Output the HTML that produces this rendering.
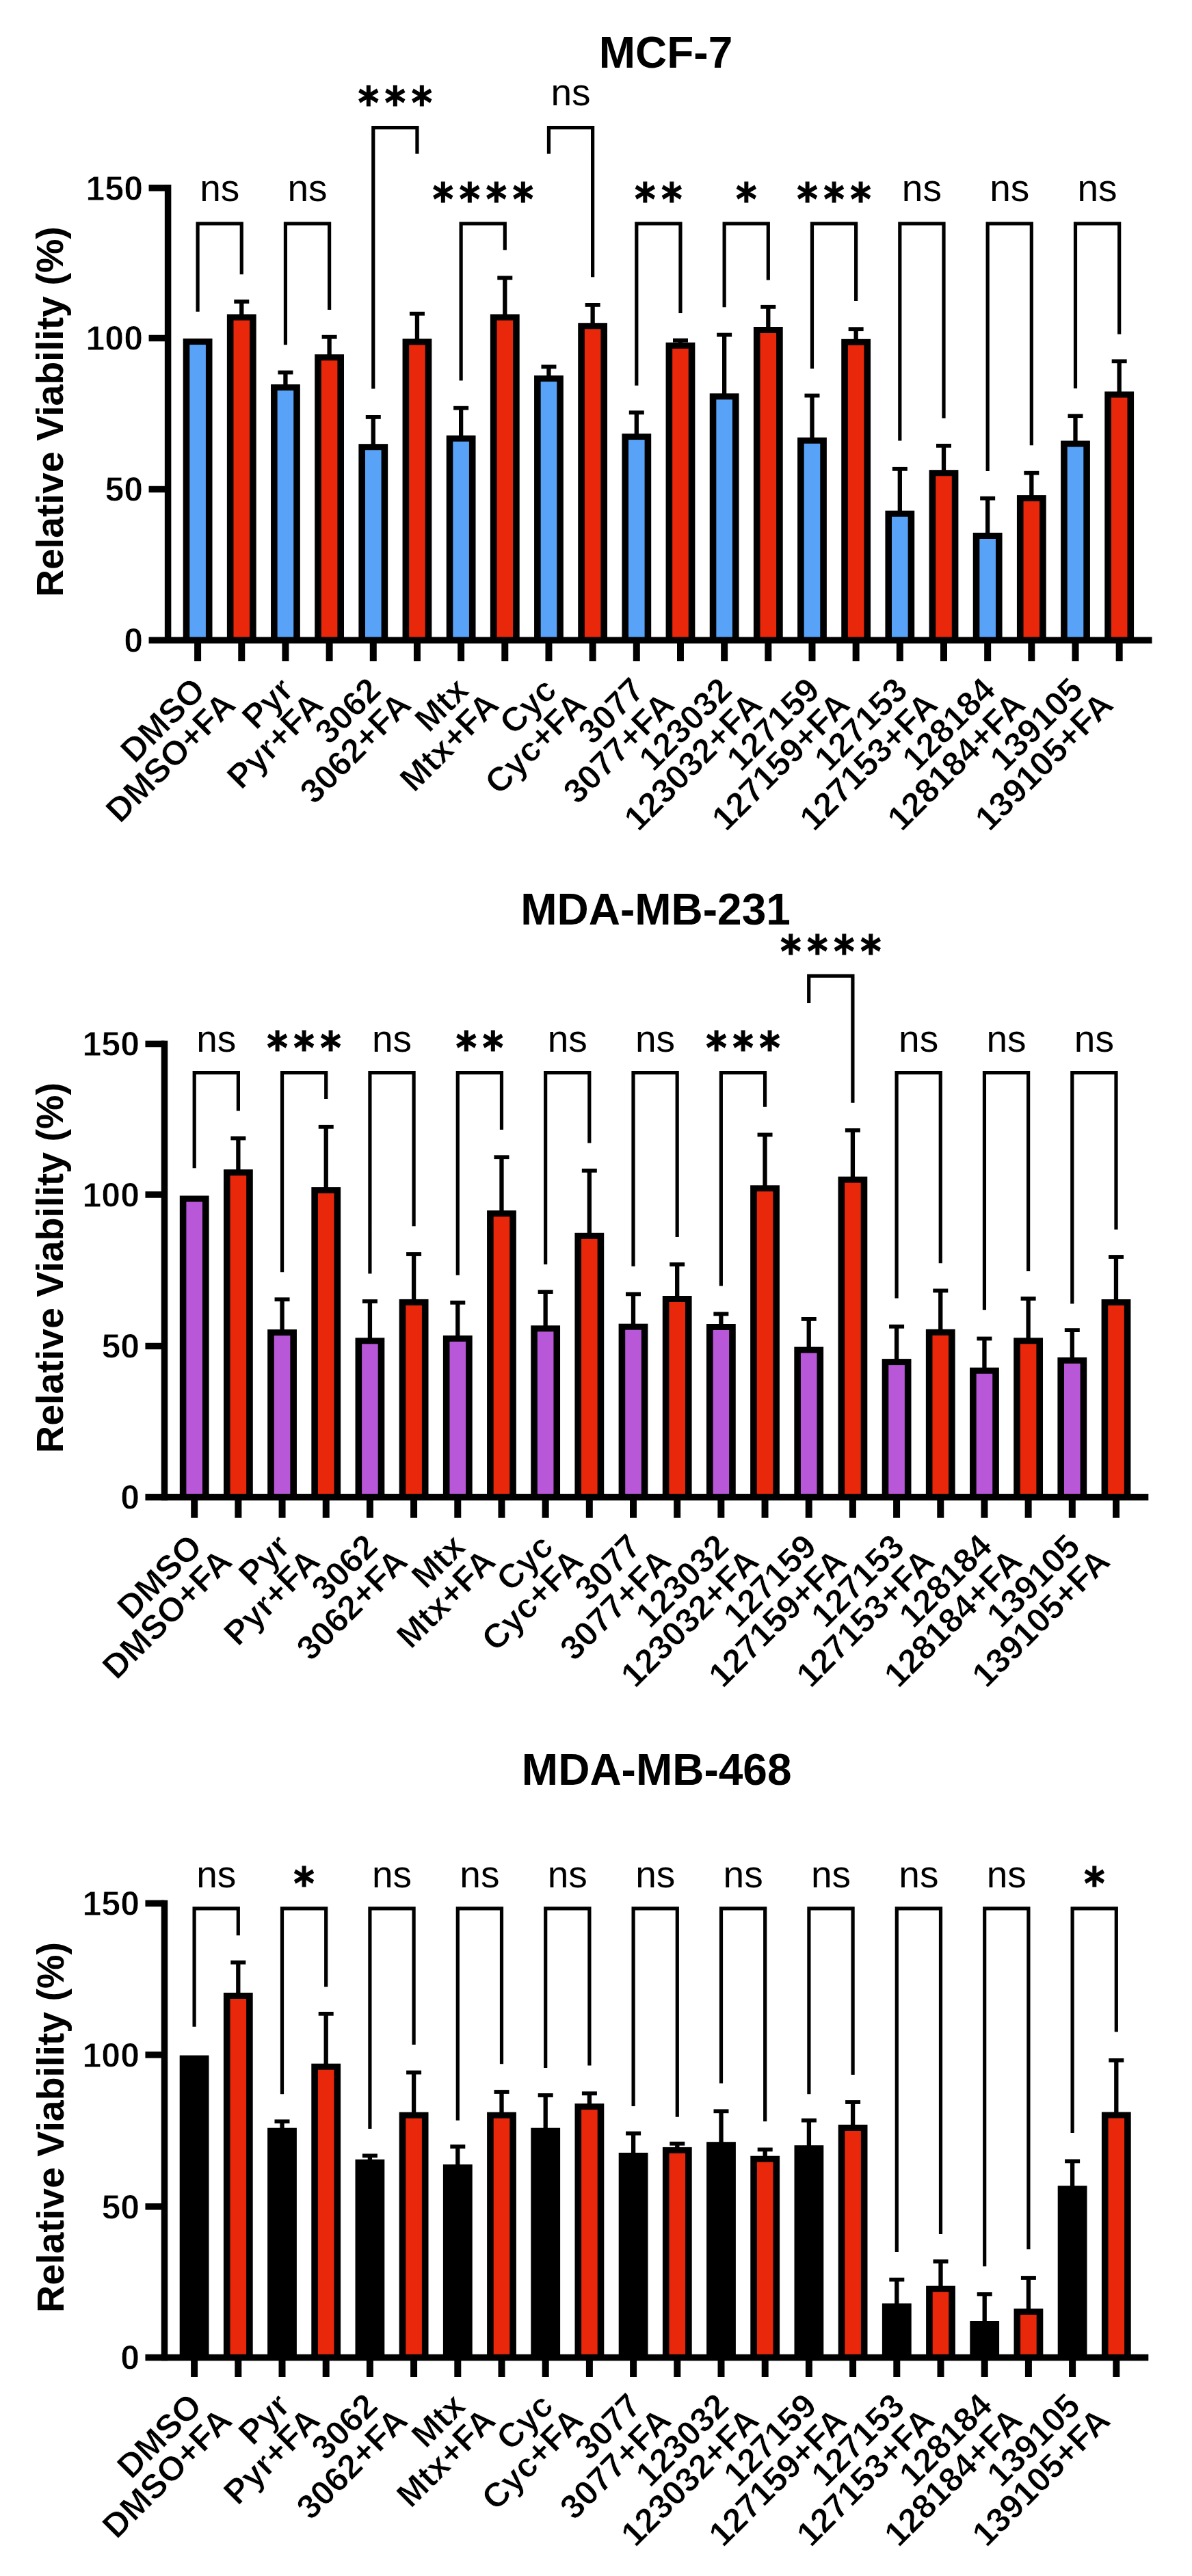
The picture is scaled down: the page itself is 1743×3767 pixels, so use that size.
<!DOCTYPE html>
<html><head><meta charset="utf-8"><title>Relative Viability</title><style>
html,body{margin:0;padding:0;background:#fff;}
svg{display:block;}
text{fill:#000;}
.ti{font-family:"Liberation Sans",Arial,sans-serif;font-weight:bold;font-size:64px;}
.yl{font-family:"Liberation Sans",Arial,sans-serif;font-weight:bold;font-size:55.5px;stroke:#fff;stroke-width:0.0px;}
.num{font-family:"Liberation Sans",Arial,sans-serif;font-weight:bold;font-size:50px;stroke:#fff;stroke-width:0.8px;}
.xl{font-family:"Liberation Sans",Arial,sans-serif;font-weight:bold;font-size:50px;stroke:#fff;stroke-width:0.8px;}
.ns{font-family:"Liberation Sans",Arial,sans-serif;font-size:55px;}
.as{font-family:"DejaVu Sans Condensed","DejaVu Sans",sans-serif;font-weight:bold;font-stretch:condensed;font-size:64px;letter-spacing:8.9px;stroke:#000;stroke-width:1.2px;}
</style></head>
<body><svg width="1743" height="3767" viewBox="0 0 1743 3767">
<rect width="1743" height="3767" fill="#fff"/>
<text class="ti" x="973.5" y="99.2" text-anchor="middle">MCF-7</text>
<text class="yl" transform="translate(92.4,602.2) rotate(-90)" text-anchor="middle">Relative Viability (%)</text>
<rect x="267.7" y="495.1" width="42.8" height="441.1" fill="#000"/>
<rect x="277.3" y="504.1" width="23.6" height="432.1" fill="#58A3F8"/>
<line x1="353.27" y1="441" x2="353.27" y2="461.5" stroke="#000" stroke-width="6.3"/>
<line x1="342.27" y1="441" x2="364.27" y2="441" stroke="#000" stroke-width="5.8"/>
<rect x="331.87" y="459.5" width="42.8" height="476.7" fill="#000"/>
<rect x="341.47" y="468.5" width="23.6" height="467.7" fill="#E8270B"/>
<line x1="417.44" y1="544.6" x2="417.44" y2="564.1" stroke="#000" stroke-width="6.3"/>
<line x1="406.44" y1="544.6" x2="428.44" y2="544.6" stroke="#000" stroke-width="5.8"/>
<rect x="396.04" y="562.1" width="42.8" height="374.1" fill="#000"/>
<rect x="405.64" y="571.1" width="23.6" height="365.1" fill="#58A3F8"/>
<line x1="481.61" y1="492.7" x2="481.61" y2="520.2" stroke="#000" stroke-width="6.3"/>
<line x1="470.61" y1="492.7" x2="492.61" y2="492.7" stroke="#000" stroke-width="5.8"/>
<rect x="460.21" y="518.2" width="42.8" height="418" fill="#000"/>
<rect x="469.81" y="527.2" width="23.6" height="409" fill="#E8270B"/>
<line x1="545.78" y1="609.9" x2="545.78" y2="651.2" stroke="#000" stroke-width="6.3"/>
<line x1="534.78" y1="609.9" x2="556.78" y2="609.9" stroke="#000" stroke-width="5.8"/>
<rect x="524.38" y="649.2" width="42.8" height="287" fill="#000"/>
<rect x="533.98" y="658.2" width="23.6" height="278" fill="#58A3F8"/>
<line x1="609.95" y1="458.7" x2="609.95" y2="497.4" stroke="#000" stroke-width="6.3"/>
<line x1="598.95" y1="458.7" x2="620.95" y2="458.7" stroke="#000" stroke-width="5.8"/>
<rect x="588.55" y="495.4" width="42.8" height="440.8" fill="#000"/>
<rect x="598.15" y="504.4" width="23.6" height="431.8" fill="#E8270B"/>
<line x1="674.12" y1="596.7" x2="674.12" y2="638.7" stroke="#000" stroke-width="6.3"/>
<line x1="663.12" y1="596.7" x2="685.12" y2="596.7" stroke="#000" stroke-width="5.8"/>
<rect x="652.72" y="636.7" width="42.8" height="299.5" fill="#000"/>
<rect x="662.32" y="645.7" width="23.6" height="290.5" fill="#58A3F8"/>
<line x1="738.29" y1="406.3" x2="738.29" y2="461.5" stroke="#000" stroke-width="6.3"/>
<line x1="727.29" y1="406.3" x2="749.29" y2="406.3" stroke="#000" stroke-width="5.8"/>
<rect x="716.89" y="459.5" width="42.8" height="476.7" fill="#000"/>
<rect x="726.49" y="468.5" width="23.6" height="467.7" fill="#E8270B"/>
<line x1="802.46" y1="536.3" x2="802.46" y2="551.1" stroke="#000" stroke-width="6.3"/>
<line x1="791.46" y1="536.3" x2="813.46" y2="536.3" stroke="#000" stroke-width="5.8"/>
<rect x="781.06" y="549.1" width="42.8" height="387.1" fill="#000"/>
<rect x="790.66" y="558.1" width="23.6" height="378.1" fill="#58A3F8"/>
<line x1="866.63" y1="445.9" x2="866.63" y2="474.2" stroke="#000" stroke-width="6.3"/>
<line x1="855.63" y1="445.9" x2="877.63" y2="445.9" stroke="#000" stroke-width="5.8"/>
<rect x="845.23" y="472.2" width="42.8" height="464" fill="#000"/>
<rect x="854.83" y="481.2" width="23.6" height="455" fill="#E8270B"/>
<line x1="930.8" y1="603.3" x2="930.8" y2="636.1" stroke="#000" stroke-width="6.3"/>
<line x1="919.8" y1="603.3" x2="941.8" y2="603.3" stroke="#000" stroke-width="5.8"/>
<rect x="909.4" y="634.1" width="42.8" height="302.1" fill="#000"/>
<rect x="919" y="643.1" width="23.6" height="293.1" fill="#58A3F8"/>
<line x1="994.97" y1="497.7" x2="994.97" y2="502.8" stroke="#000" stroke-width="6.3"/>
<line x1="983.97" y1="497.7" x2="1005.97" y2="497.7" stroke="#000" stroke-width="5.8"/>
<rect x="973.57" y="500.8" width="42.8" height="435.4" fill="#000"/>
<rect x="983.17" y="509.8" width="23.6" height="426.4" fill="#E8270B"/>
<line x1="1059.14" y1="489.6" x2="1059.14" y2="577.3" stroke="#000" stroke-width="6.3"/>
<line x1="1048.14" y1="489.6" x2="1070.14" y2="489.6" stroke="#000" stroke-width="5.8"/>
<rect x="1037.74" y="575.3" width="42.8" height="360.9" fill="#000"/>
<rect x="1047.34" y="584.3" width="23.6" height="351.9" fill="#58A3F8"/>
<line x1="1123.31" y1="448.8" x2="1123.31" y2="480" stroke="#000" stroke-width="6.3"/>
<line x1="1112.31" y1="448.8" x2="1134.31" y2="448.8" stroke="#000" stroke-width="5.8"/>
<rect x="1101.91" y="478" width="42.8" height="458.2" fill="#000"/>
<rect x="1111.51" y="487" width="23.6" height="449.2" fill="#E8270B"/>
<line x1="1187.48" y1="578.5" x2="1187.48" y2="641.7" stroke="#000" stroke-width="6.3"/>
<line x1="1176.48" y1="578.5" x2="1198.48" y2="578.5" stroke="#000" stroke-width="5.8"/>
<rect x="1166.08" y="639.7" width="42.8" height="296.5" fill="#000"/>
<rect x="1175.68" y="648.7" width="23.6" height="287.5" fill="#58A3F8"/>
<line x1="1251.65" y1="481.2" x2="1251.65" y2="497.8" stroke="#000" stroke-width="6.3"/>
<line x1="1240.65" y1="481.2" x2="1262.65" y2="481.2" stroke="#000" stroke-width="5.8"/>
<rect x="1230.25" y="495.8" width="42.8" height="440.4" fill="#000"/>
<rect x="1239.85" y="504.8" width="23.6" height="431.4" fill="#E8270B"/>
<line x1="1315.82" y1="685.8" x2="1315.82" y2="748.7" stroke="#000" stroke-width="6.3"/>
<line x1="1304.82" y1="685.8" x2="1326.82" y2="685.8" stroke="#000" stroke-width="5.8"/>
<rect x="1294.42" y="746.7" width="42.8" height="189.5" fill="#000"/>
<rect x="1304.02" y="755.7" width="23.6" height="180.5" fill="#58A3F8"/>
<line x1="1379.99" y1="651.8" x2="1379.99" y2="689.2" stroke="#000" stroke-width="6.3"/>
<line x1="1368.99" y1="651.8" x2="1390.99" y2="651.8" stroke="#000" stroke-width="5.8"/>
<rect x="1358.59" y="687.2" width="42.8" height="249" fill="#000"/>
<rect x="1368.19" y="696.2" width="23.6" height="240" fill="#E8270B"/>
<line x1="1444.16" y1="728.7" x2="1444.16" y2="781" stroke="#000" stroke-width="6.3"/>
<line x1="1433.16" y1="728.7" x2="1455.16" y2="728.7" stroke="#000" stroke-width="5.8"/>
<rect x="1422.76" y="779" width="42.8" height="157.2" fill="#000"/>
<rect x="1432.36" y="788" width="23.6" height="148.2" fill="#58A3F8"/>
<line x1="1508.33" y1="691.7" x2="1508.33" y2="726.1" stroke="#000" stroke-width="6.3"/>
<line x1="1497.33" y1="691.7" x2="1519.33" y2="691.7" stroke="#000" stroke-width="5.8"/>
<rect x="1486.93" y="724.1" width="42.8" height="212.1" fill="#000"/>
<rect x="1496.53" y="733.1" width="23.6" height="203.1" fill="#E8270B"/>
<line x1="1572.5" y1="608.2" x2="1572.5" y2="646.5" stroke="#000" stroke-width="6.3"/>
<line x1="1561.5" y1="608.2" x2="1583.5" y2="608.2" stroke="#000" stroke-width="5.8"/>
<rect x="1551.1" y="644.5" width="42.8" height="291.7" fill="#000"/>
<rect x="1560.7" y="653.5" width="23.6" height="282.7" fill="#58A3F8"/>
<line x1="1636.67" y1="528.3" x2="1636.67" y2="574.5" stroke="#000" stroke-width="6.3"/>
<line x1="1625.67" y1="528.3" x2="1647.67" y2="528.3" stroke="#000" stroke-width="5.8"/>
<rect x="1615.27" y="572.5" width="42.8" height="363.7" fill="#000"/>
<rect x="1624.87" y="581.5" width="23.6" height="354.7" fill="#E8270B"/>
<path d="M289.1 455.8V327H353.27V401.3" fill="none" stroke="#000" stroke-width="5.2" stroke-linejoin="miter" stroke-linecap="butt"/>
<text class="ns" x="321.19" y="294.4" text-anchor="middle">ns</text>
<path d="M417.44 504.3V327H481.61V453" fill="none" stroke="#000" stroke-width="5.2" stroke-linejoin="miter" stroke-linecap="butt"/>
<text class="ns" x="449.53" y="294.4" text-anchor="middle">ns</text>
<path d="M545.78 568.6V186.6H609.95V224.8" fill="none" stroke="#000" stroke-width="5.2" stroke-linejoin="miter" stroke-linecap="butt"/>
<text class="as" x="582.32" y="173.2" text-anchor="middle">***</text>
<path d="M674.12 556.4V327H738.29V365.7" fill="none" stroke="#000" stroke-width="5.2" stroke-linejoin="miter" stroke-linecap="butt"/>
<text class="as" x="710.65" y="313.6" text-anchor="middle">****</text>
<path d="M802.46 224.8V186.6H866.63V405.3" fill="none" stroke="#000" stroke-width="5.2" stroke-linejoin="miter" stroke-linecap="butt"/>
<text class="ns" x="834.55" y="154" text-anchor="middle">ns</text>
<path d="M930.8 563.7V327H994.97V458" fill="none" stroke="#000" stroke-width="5.2" stroke-linejoin="miter" stroke-linecap="butt"/>
<text class="as" x="967.34" y="313.6" text-anchor="middle">**</text>
<path d="M1059.14 449.2V327H1123.31V409.6" fill="none" stroke="#000" stroke-width="5.2" stroke-linejoin="miter" stroke-linecap="butt"/>
<text class="as" x="1095.67" y="313.6" text-anchor="middle">*</text>
<path d="M1187.48 538.9V327H1251.65V439.9" fill="none" stroke="#000" stroke-width="5.2" stroke-linejoin="miter" stroke-linecap="butt"/>
<text class="as" x="1224.02" y="313.6" text-anchor="middle">***</text>
<path d="M1315.82 644.6V327H1379.99V611.6" fill="none" stroke="#000" stroke-width="5.2" stroke-linejoin="miter" stroke-linecap="butt"/>
<text class="ns" x="1347.91" y="294.4" text-anchor="middle">ns</text>
<path d="M1444.16 689.1V327H1508.33V651.2" fill="none" stroke="#000" stroke-width="5.2" stroke-linejoin="miter" stroke-linecap="butt"/>
<text class="ns" x="1476.24" y="294.4" text-anchor="middle">ns</text>
<path d="M1572.5 568V327H1636.67V488.8" fill="none" stroke="#000" stroke-width="5.2" stroke-linejoin="miter" stroke-linecap="butt"/>
<text class="ns" x="1604.59" y="294.4" text-anchor="middle">ns</text>
<line x1="245.6" y1="270.05" x2="245.6" y2="940.95" stroke="#000" stroke-width="9.5"/>
<line x1="217.55" y1="936.2" x2="1684.5" y2="936.2" stroke="#000" stroke-width="9.5"/>
<line x1="217.55" y1="274.8" x2="245.6" y2="274.8" stroke="#000" stroke-width="9.5"/>
<line x1="217.55" y1="494.5" x2="245.6" y2="494.5" stroke="#000" stroke-width="9.5"/>
<line x1="217.55" y1="715.5" x2="245.6" y2="715.5" stroke="#000" stroke-width="9.5"/>
<text class="num" x="209" y="292.7" text-anchor="end">150</text>
<text class="num" x="209" y="512.4" text-anchor="end">100</text>
<text class="num" x="209" y="733.4" text-anchor="end">50</text>
<text class="num" x="209" y="954.1" text-anchor="end">0</text>
<line x1="289.1" y1="936.2" x2="289.1" y2="967" stroke="#000" stroke-width="10"/>
<text class="xl" transform="translate(303.1,1012) rotate(-45)" text-anchor="end">DMSO</text>
<line x1="353.27" y1="936.2" x2="353.27" y2="967" stroke="#000" stroke-width="10"/>
<text class="xl" transform="translate(347.27,1033.5) rotate(-45)" text-anchor="end">DMSO+FA</text>
<line x1="417.44" y1="936.2" x2="417.44" y2="967" stroke="#000" stroke-width="10"/>
<text class="xl" transform="translate(431.44,1012) rotate(-45)" text-anchor="end">Pyr</text>
<line x1="481.61" y1="936.2" x2="481.61" y2="967" stroke="#000" stroke-width="10"/>
<text class="xl" transform="translate(475.61,1033.5) rotate(-45)" text-anchor="end">Pyr+FA</text>
<line x1="545.78" y1="936.2" x2="545.78" y2="967" stroke="#000" stroke-width="10"/>
<text class="xl" transform="translate(559.78,1012) rotate(-45)" text-anchor="end">3062</text>
<line x1="609.95" y1="936.2" x2="609.95" y2="967" stroke="#000" stroke-width="10"/>
<text class="xl" transform="translate(603.95,1033.5) rotate(-45)" text-anchor="end">3062+FA</text>
<line x1="674.12" y1="936.2" x2="674.12" y2="967" stroke="#000" stroke-width="10"/>
<text class="xl" transform="translate(688.12,1012) rotate(-45)" text-anchor="end">Mtx</text>
<line x1="738.29" y1="936.2" x2="738.29" y2="967" stroke="#000" stroke-width="10"/>
<text class="xl" transform="translate(732.29,1033.5) rotate(-45)" text-anchor="end">Mtx+FA</text>
<line x1="802.46" y1="936.2" x2="802.46" y2="967" stroke="#000" stroke-width="10"/>
<text class="xl" transform="translate(816.46,1012) rotate(-45)" text-anchor="end">Cyc</text>
<line x1="866.63" y1="936.2" x2="866.63" y2="967" stroke="#000" stroke-width="10"/>
<text class="xl" transform="translate(860.63,1033.5) rotate(-45)" text-anchor="end">Cyc+FA</text>
<line x1="930.8" y1="936.2" x2="930.8" y2="967" stroke="#000" stroke-width="10"/>
<text class="xl" transform="translate(944.8,1012) rotate(-45)" text-anchor="end">3077</text>
<line x1="994.97" y1="936.2" x2="994.97" y2="967" stroke="#000" stroke-width="10"/>
<text class="xl" transform="translate(988.97,1033.5) rotate(-45)" text-anchor="end">3077+FA</text>
<line x1="1059.14" y1="936.2" x2="1059.14" y2="967" stroke="#000" stroke-width="10"/>
<text class="xl" transform="translate(1073.14,1012) rotate(-45)" text-anchor="end">123032</text>
<line x1="1123.31" y1="936.2" x2="1123.31" y2="967" stroke="#000" stroke-width="10"/>
<text class="xl" transform="translate(1117.31,1033.5) rotate(-45)" text-anchor="end">123032+FA</text>
<line x1="1187.48" y1="936.2" x2="1187.48" y2="967" stroke="#000" stroke-width="10"/>
<text class="xl" transform="translate(1201.48,1012) rotate(-45)" text-anchor="end">127159</text>
<line x1="1251.65" y1="936.2" x2="1251.65" y2="967" stroke="#000" stroke-width="10"/>
<text class="xl" transform="translate(1245.65,1033.5) rotate(-45)" text-anchor="end">127159+FA</text>
<line x1="1315.82" y1="936.2" x2="1315.82" y2="967" stroke="#000" stroke-width="10"/>
<text class="xl" transform="translate(1329.82,1012) rotate(-45)" text-anchor="end">127153</text>
<line x1="1379.99" y1="936.2" x2="1379.99" y2="967" stroke="#000" stroke-width="10"/>
<text class="xl" transform="translate(1373.99,1033.5) rotate(-45)" text-anchor="end">127153+FA</text>
<line x1="1444.16" y1="936.2" x2="1444.16" y2="967" stroke="#000" stroke-width="10"/>
<text class="xl" transform="translate(1458.16,1012) rotate(-45)" text-anchor="end">128184</text>
<line x1="1508.33" y1="936.2" x2="1508.33" y2="967" stroke="#000" stroke-width="10"/>
<text class="xl" transform="translate(1502.33,1033.5) rotate(-45)" text-anchor="end">128184+FA</text>
<line x1="1572.5" y1="936.2" x2="1572.5" y2="967" stroke="#000" stroke-width="10"/>
<text class="xl" transform="translate(1586.5,1012) rotate(-45)" text-anchor="end">139105</text>
<line x1="1636.67" y1="936.2" x2="1636.67" y2="967" stroke="#000" stroke-width="10"/>
<text class="xl" transform="translate(1630.67,1033.5) rotate(-45)" text-anchor="end">139105+FA</text>
<text class="ti" x="958.5" y="1352" text-anchor="middle">MDA-MB-231</text>
<text class="yl" transform="translate(92.4,1854) rotate(-90)" text-anchor="middle">Relative Viability (%)</text>
<rect x="262.8" y="1748.5" width="42.8" height="441" fill="#000"/>
<rect x="272.4" y="1757.5" width="23.6" height="432" fill="#B857D8"/>
<line x1="348.38" y1="1664.5" x2="348.38" y2="1712.1" stroke="#000" stroke-width="6.3"/>
<line x1="337.38" y1="1664.5" x2="359.38" y2="1664.5" stroke="#000" stroke-width="5.8"/>
<rect x="326.98" y="1710.1" width="42.8" height="479.4" fill="#000"/>
<rect x="336.58" y="1719.1" width="23.6" height="470.4" fill="#E8270B"/>
<line x1="412.56" y1="1900.2" x2="412.56" y2="1946.1" stroke="#000" stroke-width="6.3"/>
<line x1="401.56" y1="1900.2" x2="423.56" y2="1900.2" stroke="#000" stroke-width="5.8"/>
<rect x="391.16" y="1944.1" width="42.8" height="245.4" fill="#000"/>
<rect x="400.76" y="1953.1" width="23.6" height="236.4" fill="#B857D8"/>
<line x1="476.74" y1="1647.8" x2="476.74" y2="1738.1" stroke="#000" stroke-width="6.3"/>
<line x1="465.74" y1="1647.8" x2="487.74" y2="1647.8" stroke="#000" stroke-width="5.8"/>
<rect x="455.34" y="1736.1" width="42.8" height="453.4" fill="#000"/>
<rect x="464.94" y="1745.1" width="23.6" height="444.4" fill="#E8270B"/>
<line x1="540.92" y1="1903" x2="540.92" y2="1958.3" stroke="#000" stroke-width="6.3"/>
<line x1="529.92" y1="1903" x2="551.92" y2="1903" stroke="#000" stroke-width="5.8"/>
<rect x="519.52" y="1956.3" width="42.8" height="233.2" fill="#000"/>
<rect x="529.12" y="1965.3" width="23.6" height="224.2" fill="#B857D8"/>
<line x1="605.1" y1="1834" x2="605.1" y2="1901.9" stroke="#000" stroke-width="6.3"/>
<line x1="594.1" y1="1834" x2="616.1" y2="1834" stroke="#000" stroke-width="5.8"/>
<rect x="583.7" y="1899.9" width="42.8" height="289.6" fill="#000"/>
<rect x="593.3" y="1908.9" width="23.6" height="280.6" fill="#E8270B"/>
<line x1="669.28" y1="1904.8" x2="669.28" y2="1954.9" stroke="#000" stroke-width="6.3"/>
<line x1="658.28" y1="1904.8" x2="680.28" y2="1904.8" stroke="#000" stroke-width="5.8"/>
<rect x="647.88" y="1952.9" width="42.8" height="236.6" fill="#000"/>
<rect x="657.48" y="1961.9" width="23.6" height="227.6" fill="#B857D8"/>
<line x1="733.46" y1="1692.2" x2="733.46" y2="1772.1" stroke="#000" stroke-width="6.3"/>
<line x1="722.46" y1="1692.2" x2="744.46" y2="1692.2" stroke="#000" stroke-width="5.8"/>
<rect x="712.06" y="1770.1" width="42.8" height="419.4" fill="#000"/>
<rect x="721.66" y="1779.1" width="23.6" height="410.4" fill="#E8270B"/>
<line x1="797.64" y1="1889.1" x2="797.64" y2="1940.3" stroke="#000" stroke-width="6.3"/>
<line x1="786.64" y1="1889.1" x2="808.64" y2="1889.1" stroke="#000" stroke-width="5.8"/>
<rect x="776.24" y="1938.3" width="42.8" height="251.2" fill="#000"/>
<rect x="785.84" y="1947.3" width="23.6" height="242.2" fill="#B857D8"/>
<line x1="861.82" y1="1711.8" x2="861.82" y2="1804.8" stroke="#000" stroke-width="6.3"/>
<line x1="850.82" y1="1711.8" x2="872.82" y2="1711.8" stroke="#000" stroke-width="5.8"/>
<rect x="840.42" y="1802.8" width="42.8" height="386.7" fill="#000"/>
<rect x="850.02" y="1811.8" width="23.6" height="377.7" fill="#E8270B"/>
<line x1="926" y1="1892.4" x2="926" y2="1937.7" stroke="#000" stroke-width="6.3"/>
<line x1="915" y1="1892.4" x2="937" y2="1892.4" stroke="#000" stroke-width="5.8"/>
<rect x="904.6" y="1935.7" width="42.8" height="253.8" fill="#000"/>
<rect x="914.2" y="1944.7" width="23.6" height="244.8" fill="#B857D8"/>
<line x1="990.18" y1="1849" x2="990.18" y2="1897" stroke="#000" stroke-width="6.3"/>
<line x1="979.18" y1="1849" x2="1001.18" y2="1849" stroke="#000" stroke-width="5.8"/>
<rect x="968.78" y="1895" width="42.8" height="294.5" fill="#000"/>
<rect x="978.38" y="1904" width="23.6" height="285.5" fill="#E8270B"/>
<line x1="1054.36" y1="1921.4" x2="1054.36" y2="1938" stroke="#000" stroke-width="6.3"/>
<line x1="1043.36" y1="1921.4" x2="1065.36" y2="1921.4" stroke="#000" stroke-width="5.8"/>
<rect x="1032.96" y="1936" width="42.8" height="253.5" fill="#000"/>
<rect x="1042.56" y="1945" width="23.6" height="244.5" fill="#B857D8"/>
<line x1="1118.54" y1="1659.4" x2="1118.54" y2="1735.3" stroke="#000" stroke-width="6.3"/>
<line x1="1107.54" y1="1659.4" x2="1129.54" y2="1659.4" stroke="#000" stroke-width="5.8"/>
<rect x="1097.14" y="1733.3" width="42.8" height="456.2" fill="#000"/>
<rect x="1106.74" y="1742.3" width="23.6" height="447.2" fill="#E8270B"/>
<line x1="1182.72" y1="1928.9" x2="1182.72" y2="1971.6" stroke="#000" stroke-width="6.3"/>
<line x1="1171.72" y1="1928.9" x2="1193.72" y2="1928.9" stroke="#000" stroke-width="5.8"/>
<rect x="1161.32" y="1969.6" width="42.8" height="219.9" fill="#000"/>
<rect x="1170.92" y="1978.6" width="23.6" height="210.9" fill="#B857D8"/>
<line x1="1246.9" y1="1652.9" x2="1246.9" y2="1722.6" stroke="#000" stroke-width="6.3"/>
<line x1="1235.9" y1="1652.9" x2="1257.9" y2="1652.9" stroke="#000" stroke-width="5.8"/>
<rect x="1225.5" y="1720.6" width="42.8" height="468.9" fill="#000"/>
<rect x="1235.1" y="1729.6" width="23.6" height="459.9" fill="#E8270B"/>
<line x1="1311.08" y1="1939.8" x2="1311.08" y2="1989.1" stroke="#000" stroke-width="6.3"/>
<line x1="1300.08" y1="1939.8" x2="1322.08" y2="1939.8" stroke="#000" stroke-width="5.8"/>
<rect x="1289.68" y="1987.1" width="42.8" height="202.4" fill="#000"/>
<rect x="1299.28" y="1996.1" width="23.6" height="193.4" fill="#B857D8"/>
<line x1="1375.26" y1="1887.4" x2="1375.26" y2="1945.8" stroke="#000" stroke-width="6.3"/>
<line x1="1364.26" y1="1887.4" x2="1386.26" y2="1887.4" stroke="#000" stroke-width="5.8"/>
<rect x="1353.86" y="1943.8" width="42.8" height="245.7" fill="#000"/>
<rect x="1363.46" y="1952.8" width="23.6" height="236.7" fill="#E8270B"/>
<line x1="1439.44" y1="1957.5" x2="1439.44" y2="2001.8" stroke="#000" stroke-width="6.3"/>
<line x1="1428.44" y1="1957.5" x2="1450.44" y2="1957.5" stroke="#000" stroke-width="5.8"/>
<rect x="1418.04" y="1999.8" width="42.8" height="189.7" fill="#000"/>
<rect x="1427.64" y="2008.8" width="23.6" height="180.7" fill="#B857D8"/>
<line x1="1503.62" y1="1899" x2="1503.62" y2="1958.3" stroke="#000" stroke-width="6.3"/>
<line x1="1492.62" y1="1899" x2="1514.62" y2="1899" stroke="#000" stroke-width="5.8"/>
<rect x="1482.22" y="1956.3" width="42.8" height="233.2" fill="#000"/>
<rect x="1491.82" y="1965.3" width="23.6" height="224.2" fill="#E8270B"/>
<line x1="1567.8" y1="1945.1" x2="1567.8" y2="1987" stroke="#000" stroke-width="6.3"/>
<line x1="1556.8" y1="1945.1" x2="1578.8" y2="1945.1" stroke="#000" stroke-width="5.8"/>
<rect x="1546.4" y="1985" width="42.8" height="204.5" fill="#000"/>
<rect x="1556" y="1994" width="23.6" height="195.5" fill="#B857D8"/>
<line x1="1631.98" y1="1838" x2="1631.98" y2="1902" stroke="#000" stroke-width="6.3"/>
<line x1="1620.98" y1="1838" x2="1642.98" y2="1838" stroke="#000" stroke-width="5.8"/>
<rect x="1610.58" y="1900" width="42.8" height="289.5" fill="#000"/>
<rect x="1620.18" y="1909" width="23.6" height="280.5" fill="#E8270B"/>
<path d="M284.2 1708.2V1568.6H348.38V1624.5" fill="none" stroke="#000" stroke-width="5.2" stroke-linejoin="miter" stroke-linecap="butt"/>
<text class="ns" x="316.29" y="1537.6" text-anchor="middle">ns</text>
<path d="M412.56 1860.2V1568.6H476.74V1607.1" fill="none" stroke="#000" stroke-width="5.2" stroke-linejoin="miter" stroke-linecap="butt"/>
<text class="as" x="449.1" y="1555.2" text-anchor="middle">***</text>
<path d="M540.92 1862.5V1568.6H605.1V1793.3" fill="none" stroke="#000" stroke-width="5.2" stroke-linejoin="miter" stroke-linecap="butt"/>
<text class="ns" x="573.01" y="1537.6" text-anchor="middle">ns</text>
<path d="M669.28 1864.7V1568.6H733.46V1652.1" fill="none" stroke="#000" stroke-width="5.2" stroke-linejoin="miter" stroke-linecap="butt"/>
<text class="as" x="705.82" y="1555.2" text-anchor="middle">**</text>
<path d="M797.64 1849V1568.6H861.82V1671.4" fill="none" stroke="#000" stroke-width="5.2" stroke-linejoin="miter" stroke-linecap="butt"/>
<text class="ns" x="829.73" y="1537.6" text-anchor="middle">ns</text>
<path d="M926 1851.7V1568.6H990.18V1809" fill="none" stroke="#000" stroke-width="5.2" stroke-linejoin="miter" stroke-linecap="butt"/>
<text class="ns" x="958.09" y="1537.6" text-anchor="middle">ns</text>
<path d="M1054.36 1880.4V1568.6H1118.54V1618.7" fill="none" stroke="#000" stroke-width="5.2" stroke-linejoin="miter" stroke-linecap="butt"/>
<text class="as" x="1090.9" y="1555.2" text-anchor="middle">***</text>
<path d="M1182.72 1467V1427.1H1246.9V1612.7" fill="none" stroke="#000" stroke-width="5.2" stroke-linejoin="miter" stroke-linecap="butt"/>
<text class="as" x="1219.26" y="1413.7" text-anchor="middle">****</text>
<path d="M1311.08 1898.6V1568.6H1375.26V1847.3" fill="none" stroke="#000" stroke-width="5.2" stroke-linejoin="miter" stroke-linecap="butt"/>
<text class="ns" x="1343.17" y="1537.6" text-anchor="middle">ns</text>
<path d="M1439.44 1915.8V1568.6H1503.62V1859" fill="none" stroke="#000" stroke-width="5.2" stroke-linejoin="miter" stroke-linecap="butt"/>
<text class="ns" x="1471.53" y="1537.6" text-anchor="middle">ns</text>
<path d="M1567.8 1906.4V1568.6H1631.98V1798" fill="none" stroke="#000" stroke-width="5.2" stroke-linejoin="miter" stroke-linecap="butt"/>
<text class="ns" x="1599.89" y="1537.6" text-anchor="middle">ns</text>
<line x1="240.5" y1="1521.75" x2="240.5" y2="2194.25" stroke="#000" stroke-width="9.5"/>
<line x1="212.45" y1="2189.5" x2="1679.3" y2="2189.5" stroke="#000" stroke-width="9.5"/>
<line x1="212.45" y1="1526.5" x2="240.5" y2="1526.5" stroke="#000" stroke-width="9.5"/>
<line x1="212.45" y1="1747" x2="240.5" y2="1747" stroke="#000" stroke-width="9.5"/>
<line x1="212.45" y1="1968.5" x2="240.5" y2="1968.5" stroke="#000" stroke-width="9.5"/>
<text class="num" x="204" y="1544.4" text-anchor="end">150</text>
<text class="num" x="204" y="1764.9" text-anchor="end">100</text>
<text class="num" x="204" y="1986.4" text-anchor="end">50</text>
<text class="num" x="204" y="2207.4" text-anchor="end">0</text>
<line x1="284.2" y1="2189.5" x2="284.2" y2="2219.7" stroke="#000" stroke-width="10"/>
<text class="xl" transform="translate(298.2,2264.7) rotate(-45)" text-anchor="end">DMSO</text>
<line x1="348.38" y1="2189.5" x2="348.38" y2="2219.7" stroke="#000" stroke-width="10"/>
<text class="xl" transform="translate(342.38,2286.2) rotate(-45)" text-anchor="end">DMSO+FA</text>
<line x1="412.56" y1="2189.5" x2="412.56" y2="2219.7" stroke="#000" stroke-width="10"/>
<text class="xl" transform="translate(426.56,2264.7) rotate(-45)" text-anchor="end">Pyr</text>
<line x1="476.74" y1="2189.5" x2="476.74" y2="2219.7" stroke="#000" stroke-width="10"/>
<text class="xl" transform="translate(470.74,2286.2) rotate(-45)" text-anchor="end">Pyr+FA</text>
<line x1="540.92" y1="2189.5" x2="540.92" y2="2219.7" stroke="#000" stroke-width="10"/>
<text class="xl" transform="translate(554.92,2264.7) rotate(-45)" text-anchor="end">3062</text>
<line x1="605.1" y1="2189.5" x2="605.1" y2="2219.7" stroke="#000" stroke-width="10"/>
<text class="xl" transform="translate(599.1,2286.2) rotate(-45)" text-anchor="end">3062+FA</text>
<line x1="669.28" y1="2189.5" x2="669.28" y2="2219.7" stroke="#000" stroke-width="10"/>
<text class="xl" transform="translate(683.28,2264.7) rotate(-45)" text-anchor="end">Mtx</text>
<line x1="733.46" y1="2189.5" x2="733.46" y2="2219.7" stroke="#000" stroke-width="10"/>
<text class="xl" transform="translate(727.46,2286.2) rotate(-45)" text-anchor="end">Mtx+FA</text>
<line x1="797.64" y1="2189.5" x2="797.64" y2="2219.7" stroke="#000" stroke-width="10"/>
<text class="xl" transform="translate(811.64,2264.7) rotate(-45)" text-anchor="end">Cyc</text>
<line x1="861.82" y1="2189.5" x2="861.82" y2="2219.7" stroke="#000" stroke-width="10"/>
<text class="xl" transform="translate(855.82,2286.2) rotate(-45)" text-anchor="end">Cyc+FA</text>
<line x1="926" y1="2189.5" x2="926" y2="2219.7" stroke="#000" stroke-width="10"/>
<text class="xl" transform="translate(940,2264.7) rotate(-45)" text-anchor="end">3077</text>
<line x1="990.18" y1="2189.5" x2="990.18" y2="2219.7" stroke="#000" stroke-width="10"/>
<text class="xl" transform="translate(984.18,2286.2) rotate(-45)" text-anchor="end">3077+FA</text>
<line x1="1054.36" y1="2189.5" x2="1054.36" y2="2219.7" stroke="#000" stroke-width="10"/>
<text class="xl" transform="translate(1068.36,2264.7) rotate(-45)" text-anchor="end">123032</text>
<line x1="1118.54" y1="2189.5" x2="1118.54" y2="2219.7" stroke="#000" stroke-width="10"/>
<text class="xl" transform="translate(1112.54,2286.2) rotate(-45)" text-anchor="end">123032+FA</text>
<line x1="1182.72" y1="2189.5" x2="1182.72" y2="2219.7" stroke="#000" stroke-width="10"/>
<text class="xl" transform="translate(1196.72,2264.7) rotate(-45)" text-anchor="end">127159</text>
<line x1="1246.9" y1="2189.5" x2="1246.9" y2="2219.7" stroke="#000" stroke-width="10"/>
<text class="xl" transform="translate(1240.9,2286.2) rotate(-45)" text-anchor="end">127159+FA</text>
<line x1="1311.08" y1="2189.5" x2="1311.08" y2="2219.7" stroke="#000" stroke-width="10"/>
<text class="xl" transform="translate(1325.08,2264.7) rotate(-45)" text-anchor="end">127153</text>
<line x1="1375.26" y1="2189.5" x2="1375.26" y2="2219.7" stroke="#000" stroke-width="10"/>
<text class="xl" transform="translate(1369.26,2286.2) rotate(-45)" text-anchor="end">127153+FA</text>
<line x1="1439.44" y1="2189.5" x2="1439.44" y2="2219.7" stroke="#000" stroke-width="10"/>
<text class="xl" transform="translate(1453.44,2264.7) rotate(-45)" text-anchor="end">128184</text>
<line x1="1503.62" y1="2189.5" x2="1503.62" y2="2219.7" stroke="#000" stroke-width="10"/>
<text class="xl" transform="translate(1497.62,2286.2) rotate(-45)" text-anchor="end">128184+FA</text>
<line x1="1567.8" y1="2189.5" x2="1567.8" y2="2219.7" stroke="#000" stroke-width="10"/>
<text class="xl" transform="translate(1581.8,2264.7) rotate(-45)" text-anchor="end">139105</text>
<line x1="1631.98" y1="2189.5" x2="1631.98" y2="2219.7" stroke="#000" stroke-width="10"/>
<text class="xl" transform="translate(1625.98,2286.2) rotate(-45)" text-anchor="end">139105+FA</text>
<text class="ti" x="960.2" y="2610.1" text-anchor="middle">MDA-MB-468</text>
<text class="yl" transform="translate(93,3111) rotate(-90)" text-anchor="middle">Relative Viability (%)</text>
<rect x="262.7" y="3005.6" width="42.8" height="441.8" fill="#000"/>
<line x1="348.3" y1="2869.7" x2="348.3" y2="2916" stroke="#000" stroke-width="6.3"/>
<line x1="337.3" y1="2869.7" x2="359.3" y2="2869.7" stroke="#000" stroke-width="5.8"/>
<rect x="326.9" y="2914" width="42.8" height="533.4" fill="#000"/>
<rect x="336.5" y="2923" width="23.6" height="524.4" fill="#E8270B"/>
<line x1="412.5" y1="3102.3" x2="412.5" y2="3113.7" stroke="#000" stroke-width="6.3"/>
<line x1="401.5" y1="3102.3" x2="423.5" y2="3102.3" stroke="#000" stroke-width="5.8"/>
<rect x="391.1" y="3111.7" width="42.8" height="335.7" fill="#000"/>
<line x1="476.7" y1="2944.8" x2="476.7" y2="3019.7" stroke="#000" stroke-width="6.3"/>
<line x1="465.7" y1="2944.8" x2="487.7" y2="2944.8" stroke="#000" stroke-width="5.8"/>
<rect x="455.3" y="3017.7" width="42.8" height="429.7" fill="#000"/>
<rect x="464.9" y="3026.7" width="23.6" height="420.7" fill="#E8270B"/>
<line x1="540.9" y1="3152.4" x2="540.9" y2="3159.8" stroke="#000" stroke-width="6.3"/>
<line x1="529.9" y1="3152.4" x2="551.9" y2="3152.4" stroke="#000" stroke-width="5.8"/>
<rect x="519.5" y="3157.8" width="42.8" height="289.6" fill="#000"/>
<line x1="605.1" y1="3030.6" x2="605.1" y2="3090.7" stroke="#000" stroke-width="6.3"/>
<line x1="594.1" y1="3030.6" x2="616.1" y2="3030.6" stroke="#000" stroke-width="5.8"/>
<rect x="583.7" y="3088.7" width="42.8" height="358.7" fill="#000"/>
<rect x="593.3" y="3097.7" width="23.6" height="349.7" fill="#E8270B"/>
<line x1="669.3" y1="3139" x2="669.3" y2="3167.2" stroke="#000" stroke-width="6.3"/>
<line x1="658.3" y1="3139" x2="680.3" y2="3139" stroke="#000" stroke-width="5.8"/>
<rect x="647.9" y="3165.2" width="42.8" height="282.2" fill="#000"/>
<line x1="733.5" y1="3059" x2="733.5" y2="3090.7" stroke="#000" stroke-width="6.3"/>
<line x1="722.5" y1="3059" x2="744.5" y2="3059" stroke="#000" stroke-width="5.8"/>
<rect x="712.1" y="3088.7" width="42.8" height="358.7" fill="#000"/>
<rect x="721.7" y="3097.7" width="23.6" height="349.7" fill="#E8270B"/>
<line x1="797.7" y1="3064" x2="797.7" y2="3113.7" stroke="#000" stroke-width="6.3"/>
<line x1="786.7" y1="3064" x2="808.7" y2="3064" stroke="#000" stroke-width="5.8"/>
<rect x="776.3" y="3111.7" width="42.8" height="335.7" fill="#000"/>
<line x1="861.9" y1="3061.3" x2="861.9" y2="3078.1" stroke="#000" stroke-width="6.3"/>
<line x1="850.9" y1="3061.3" x2="872.9" y2="3061.3" stroke="#000" stroke-width="5.8"/>
<rect x="840.5" y="3076.1" width="42.8" height="371.3" fill="#000"/>
<rect x="850.1" y="3085.1" width="23.6" height="362.3" fill="#E8270B"/>
<line x1="926.1" y1="3119.7" x2="926.1" y2="3150" stroke="#000" stroke-width="6.3"/>
<line x1="915.1" y1="3119.7" x2="937.1" y2="3119.7" stroke="#000" stroke-width="5.8"/>
<rect x="904.7" y="3148" width="42.8" height="299.4" fill="#000"/>
<line x1="990.3" y1="3134.7" x2="990.3" y2="3141.9" stroke="#000" stroke-width="6.3"/>
<line x1="979.3" y1="3134.7" x2="1001.3" y2="3134.7" stroke="#000" stroke-width="5.8"/>
<rect x="968.9" y="3139.9" width="42.8" height="307.5" fill="#000"/>
<rect x="978.5" y="3148.9" width="23.6" height="298.5" fill="#E8270B"/>
<line x1="1054.5" y1="3087.3" x2="1054.5" y2="3134.2" stroke="#000" stroke-width="6.3"/>
<line x1="1043.5" y1="3087.3" x2="1065.5" y2="3087.3" stroke="#000" stroke-width="5.8"/>
<rect x="1033.1" y="3132.2" width="42.8" height="315.2" fill="#000"/>
<line x1="1118.7" y1="3143.4" x2="1118.7" y2="3154.7" stroke="#000" stroke-width="6.3"/>
<line x1="1107.7" y1="3143.4" x2="1129.7" y2="3143.4" stroke="#000" stroke-width="5.8"/>
<rect x="1097.3" y="3152.7" width="42.8" height="294.7" fill="#000"/>
<rect x="1106.9" y="3161.7" width="23.6" height="285.7" fill="#E8270B"/>
<line x1="1182.9" y1="3100.7" x2="1182.9" y2="3139.2" stroke="#000" stroke-width="6.3"/>
<line x1="1171.9" y1="3100.7" x2="1193.9" y2="3100.7" stroke="#000" stroke-width="5.8"/>
<rect x="1161.5" y="3137.2" width="42.8" height="310.2" fill="#000"/>
<line x1="1247.1" y1="3074" x2="1247.1" y2="3109" stroke="#000" stroke-width="6.3"/>
<line x1="1236.1" y1="3074" x2="1258.1" y2="3074" stroke="#000" stroke-width="5.8"/>
<rect x="1225.7" y="3107" width="42.8" height="340.4" fill="#000"/>
<rect x="1235.3" y="3116" width="23.6" height="331.4" fill="#E8270B"/>
<line x1="1311.3" y1="3333.6" x2="1311.3" y2="3370.4" stroke="#000" stroke-width="6.3"/>
<line x1="1300.3" y1="3333.6" x2="1322.3" y2="3333.6" stroke="#000" stroke-width="5.8"/>
<rect x="1289.9" y="3368.4" width="42.8" height="79" fill="#000"/>
<line x1="1375.5" y1="3307" x2="1375.5" y2="3344.7" stroke="#000" stroke-width="6.3"/>
<line x1="1364.5" y1="3307" x2="1386.5" y2="3307" stroke="#000" stroke-width="5.8"/>
<rect x="1354.1" y="3342.7" width="42.8" height="104.7" fill="#000"/>
<rect x="1363.7" y="3351.7" width="23.6" height="95.7" fill="#E8270B"/>
<line x1="1439.7" y1="3355" x2="1439.7" y2="3396" stroke="#000" stroke-width="6.3"/>
<line x1="1428.7" y1="3355" x2="1450.7" y2="3355" stroke="#000" stroke-width="5.8"/>
<rect x="1418.3" y="3394" width="42.8" height="53.4" fill="#000"/>
<line x1="1503.9" y1="3331" x2="1503.9" y2="3377.9" stroke="#000" stroke-width="6.3"/>
<line x1="1492.9" y1="3331" x2="1514.9" y2="3331" stroke="#000" stroke-width="5.8"/>
<rect x="1482.5" y="3375.9" width="42.8" height="71.5" fill="#000"/>
<rect x="1492.1" y="3384.9" width="23.6" height="62.5" fill="#E8270B"/>
<line x1="1568.1" y1="3160.4" x2="1568.1" y2="3198.4" stroke="#000" stroke-width="6.3"/>
<line x1="1557.1" y1="3160.4" x2="1579.1" y2="3160.4" stroke="#000" stroke-width="5.8"/>
<rect x="1546.7" y="3196.4" width="42.8" height="251" fill="#000"/>
<line x1="1632.3" y1="3012.9" x2="1632.3" y2="3090.5" stroke="#000" stroke-width="6.3"/>
<line x1="1621.3" y1="3012.9" x2="1643.3" y2="3012.9" stroke="#000" stroke-width="5.8"/>
<rect x="1610.9" y="3088.5" width="42.8" height="358.9" fill="#000"/>
<rect x="1620.5" y="3097.5" width="23.6" height="349.9" fill="#E8270B"/>
<path d="M284.1 2963.8V2790.8H348.3V2830.3" fill="none" stroke="#000" stroke-width="5.2" stroke-linejoin="miter" stroke-linecap="butt"/>
<text class="ns" x="316.2" y="2759.5" text-anchor="middle">ns</text>
<path d="M412.5 3062.3V2790.8H476.7V2905.4" fill="none" stroke="#000" stroke-width="5.2" stroke-linejoin="miter" stroke-linecap="butt"/>
<text class="as" x="449.05" y="2777.4" text-anchor="middle">*</text>
<path d="M540.9 3113V2790.8H605.1V2989.9" fill="none" stroke="#000" stroke-width="5.2" stroke-linejoin="miter" stroke-linecap="butt"/>
<text class="ns" x="573" y="2759.5" text-anchor="middle">ns</text>
<path d="M669.3 3100.7V2790.8H733.5V3018.2" fill="none" stroke="#000" stroke-width="5.2" stroke-linejoin="miter" stroke-linecap="butt"/>
<text class="ns" x="701.4" y="2759.5" text-anchor="middle">ns</text>
<path d="M797.7 3023.9V2790.8H861.9V3020.6" fill="none" stroke="#000" stroke-width="5.2" stroke-linejoin="miter" stroke-linecap="butt"/>
<text class="ns" x="829.8" y="2759.5" text-anchor="middle">ns</text>
<path d="M926.1 3080V2790.8H990.3V3095.7" fill="none" stroke="#000" stroke-width="5.2" stroke-linejoin="miter" stroke-linecap="butt"/>
<text class="ns" x="958.2" y="2759.5" text-anchor="middle">ns</text>
<path d="M1054.5 3046.6V2790.8H1118.7V3102.3" fill="none" stroke="#000" stroke-width="5.2" stroke-linejoin="miter" stroke-linecap="butt"/>
<text class="ns" x="1086.6" y="2759.5" text-anchor="middle">ns</text>
<path d="M1182.9 3062.3V2790.8H1247.1V3033.9" fill="none" stroke="#000" stroke-width="5.2" stroke-linejoin="miter" stroke-linecap="butt"/>
<text class="ns" x="1215" y="2759.5" text-anchor="middle">ns</text>
<path d="M1311.3 3293V2790.8H1375.5V3266.9" fill="none" stroke="#000" stroke-width="5.2" stroke-linejoin="miter" stroke-linecap="butt"/>
<text class="ns" x="1343.4" y="2759.5" text-anchor="middle">ns</text>
<path d="M1439.7 3314.3V2790.8H1503.9V3289.3" fill="none" stroke="#000" stroke-width="5.2" stroke-linejoin="miter" stroke-linecap="butt"/>
<text class="ns" x="1471.8" y="2759.5" text-anchor="middle">ns</text>
<path d="M1568.1 3119V2790.8H1632.3V2971.2" fill="none" stroke="#000" stroke-width="5.2" stroke-linejoin="miter" stroke-linecap="butt"/>
<text class="as" x="1604.65" y="2777.4" text-anchor="middle">*</text>
<line x1="240.5" y1="2778.65" x2="240.5" y2="3452.15" stroke="#000" stroke-width="9.5"/>
<line x1="212.45" y1="3447.4" x2="1679.3" y2="3447.4" stroke="#000" stroke-width="9.5"/>
<line x1="212.45" y1="2783.4" x2="240.5" y2="2783.4" stroke="#000" stroke-width="9.5"/>
<line x1="212.45" y1="3004.9" x2="240.5" y2="3004.9" stroke="#000" stroke-width="9.5"/>
<line x1="212.45" y1="3226.8" x2="240.5" y2="3226.8" stroke="#000" stroke-width="9.5"/>
<text class="num" x="204" y="2801.3" text-anchor="end">150</text>
<text class="num" x="204" y="3022.8" text-anchor="end">100</text>
<text class="num" x="204" y="3244.7" text-anchor="end">50</text>
<text class="num" x="204" y="3465.3" text-anchor="end">0</text>
<line x1="284.1" y1="3447.4" x2="284.1" y2="3476" stroke="#000" stroke-width="10"/>
<text class="xl" transform="translate(298.1,3521) rotate(-45)" text-anchor="end">DMSO</text>
<line x1="348.3" y1="3447.4" x2="348.3" y2="3476" stroke="#000" stroke-width="10"/>
<text class="xl" transform="translate(342.3,3542.5) rotate(-45)" text-anchor="end">DMSO+FA</text>
<line x1="412.5" y1="3447.4" x2="412.5" y2="3476" stroke="#000" stroke-width="10"/>
<text class="xl" transform="translate(426.5,3521) rotate(-45)" text-anchor="end">Pyr</text>
<line x1="476.7" y1="3447.4" x2="476.7" y2="3476" stroke="#000" stroke-width="10"/>
<text class="xl" transform="translate(470.7,3542.5) rotate(-45)" text-anchor="end">Pyr+FA</text>
<line x1="540.9" y1="3447.4" x2="540.9" y2="3476" stroke="#000" stroke-width="10"/>
<text class="xl" transform="translate(554.9,3521) rotate(-45)" text-anchor="end">3062</text>
<line x1="605.1" y1="3447.4" x2="605.1" y2="3476" stroke="#000" stroke-width="10"/>
<text class="xl" transform="translate(599.1,3542.5) rotate(-45)" text-anchor="end">3062+FA</text>
<line x1="669.3" y1="3447.4" x2="669.3" y2="3476" stroke="#000" stroke-width="10"/>
<text class="xl" transform="translate(683.3,3521) rotate(-45)" text-anchor="end">Mtx</text>
<line x1="733.5" y1="3447.4" x2="733.5" y2="3476" stroke="#000" stroke-width="10"/>
<text class="xl" transform="translate(727.5,3542.5) rotate(-45)" text-anchor="end">Mtx+FA</text>
<line x1="797.7" y1="3447.4" x2="797.7" y2="3476" stroke="#000" stroke-width="10"/>
<text class="xl" transform="translate(811.7,3521) rotate(-45)" text-anchor="end">Cyc</text>
<line x1="861.9" y1="3447.4" x2="861.9" y2="3476" stroke="#000" stroke-width="10"/>
<text class="xl" transform="translate(855.9,3542.5) rotate(-45)" text-anchor="end">Cyc+FA</text>
<line x1="926.1" y1="3447.4" x2="926.1" y2="3476" stroke="#000" stroke-width="10"/>
<text class="xl" transform="translate(940.1,3521) rotate(-45)" text-anchor="end">3077</text>
<line x1="990.3" y1="3447.4" x2="990.3" y2="3476" stroke="#000" stroke-width="10"/>
<text class="xl" transform="translate(984.3,3542.5) rotate(-45)" text-anchor="end">3077+FA</text>
<line x1="1054.5" y1="3447.4" x2="1054.5" y2="3476" stroke="#000" stroke-width="10"/>
<text class="xl" transform="translate(1068.5,3521) rotate(-45)" text-anchor="end">123032</text>
<line x1="1118.7" y1="3447.4" x2="1118.7" y2="3476" stroke="#000" stroke-width="10"/>
<text class="xl" transform="translate(1112.7,3542.5) rotate(-45)" text-anchor="end">123032+FA</text>
<line x1="1182.9" y1="3447.4" x2="1182.9" y2="3476" stroke="#000" stroke-width="10"/>
<text class="xl" transform="translate(1196.9,3521) rotate(-45)" text-anchor="end">127159</text>
<line x1="1247.1" y1="3447.4" x2="1247.1" y2="3476" stroke="#000" stroke-width="10"/>
<text class="xl" transform="translate(1241.1,3542.5) rotate(-45)" text-anchor="end">127159+FA</text>
<line x1="1311.3" y1="3447.4" x2="1311.3" y2="3476" stroke="#000" stroke-width="10"/>
<text class="xl" transform="translate(1325.3,3521) rotate(-45)" text-anchor="end">127153</text>
<line x1="1375.5" y1="3447.4" x2="1375.5" y2="3476" stroke="#000" stroke-width="10"/>
<text class="xl" transform="translate(1369.5,3542.5) rotate(-45)" text-anchor="end">127153+FA</text>
<line x1="1439.7" y1="3447.4" x2="1439.7" y2="3476" stroke="#000" stroke-width="10"/>
<text class="xl" transform="translate(1453.7,3521) rotate(-45)" text-anchor="end">128184</text>
<line x1="1503.9" y1="3447.4" x2="1503.9" y2="3476" stroke="#000" stroke-width="10"/>
<text class="xl" transform="translate(1497.9,3542.5) rotate(-45)" text-anchor="end">128184+FA</text>
<line x1="1568.1" y1="3447.4" x2="1568.1" y2="3476" stroke="#000" stroke-width="10"/>
<text class="xl" transform="translate(1582.1,3521) rotate(-45)" text-anchor="end">139105</text>
<line x1="1632.3" y1="3447.4" x2="1632.3" y2="3476" stroke="#000" stroke-width="10"/>
<text class="xl" transform="translate(1626.3,3542.5) rotate(-45)" text-anchor="end">139105+FA</text>
</svg></body></html>
